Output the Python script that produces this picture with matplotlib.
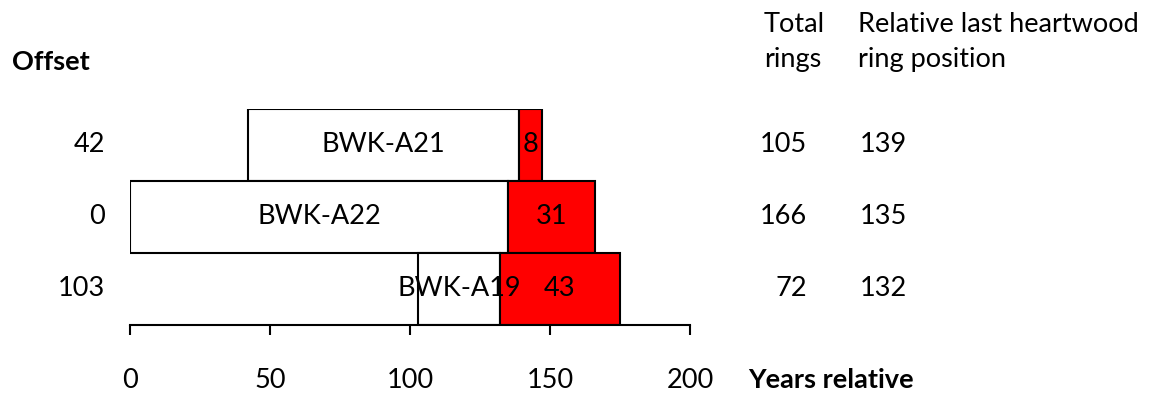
import matplotlib.pyplot as plt
from matplotlib.transforms import blended_transform_factory

# sample data (top to bottom as shown)
samples = ["BWK-A21", "BWK-A22", "BWK-A19"]
offsets = [42, 0, 103]
total_rings = [105, 166, 72]
last_heartwood = [139, 135, 132]

plt.rcParams['font.family'] = ['Lato', 'DejaVu Sans']
fs = 19.5

fig = plt.figure(figsize=(11.49, 3.98), dpi=100)
ax = fig.add_axes([130 / 1149, 1 - 325 / 398, 560 / 1149, 216 / 398])

n = len(samples)
for i, name in enumerate(samples):
    y = n - 1 - i
    start = offsets[i]
    end = offsets[i] + total_rings[i]
    hw = last_heartwood[i]
    ax.barh(y, hw - start, left=start, height=1, color="white",
            edgecolor="black", linewidth=1.5)
    ax.barh(y, end - hw, left=hw, height=1, color="#ff0000",
            edgecolor="black", linewidth=1.5)
    ax.text((start + hw) / 2, y, name, ha="center", va="center", fontsize=fs)
    ax.text((hw + end) / 2, y, str(end - hw), ha="center", va="center", fontsize=fs)

ax.set_xlim(0, 200)
ax.set_ylim(-0.5, n - 0.5)
for s in ["top", "right", "left"]:
    ax.spines[s].set_visible(False)
ax.spines["bottom"].set_linewidth(1.5)
ax.set_yticks([])
ax.set_xticks([0, 50, 100, 150, 200])
ax.tick_params(axis="x", direction="out", length=7, width=1.5, pad=24, labelsize=fs)

tr = blended_transform_factory(ax.transAxes, ax.transData)
for i in range(n):
    y = n - 1 - i
    ax.text(-0.045, y, str(offsets[i]), transform=tr, ha="right", va="center", fontsize=fs)
    ax.text(1.209, y, str(total_rings[i]), transform=tr, ha="right", va="center", fontsize=fs)
    ax.text(1.304, y, str(last_heartwood[i]), transform=tr, ha="left", va="center", fontsize=fs)

fig.text(12 / 1149, 1 - 62 / 398, "Offset", ha="left", va="center", fontsize=fs, fontweight="bold")
fig.text(764 / 1149, 1 - 42 / 398, "Total\nrings", ha="left", va="center", fontsize=fs,
         linespacing=1.55)
fig.text(858 / 1149, 1 - 42 / 398, "Relative last heartwood\nring position", ha="left",
         va="center", fontsize=fs, linespacing=1.55)
fig.text(748 / 1149, 1 - 380 / 398, "Years relative", ha="left", va="center", fontsize=fs,
         fontweight="bold")

fig.savefig("out.png", dpi=100)
